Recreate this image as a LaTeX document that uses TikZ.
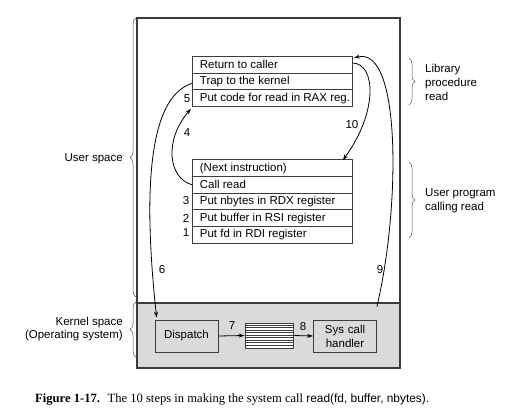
\documentclass[tikz,border=0pt]{standalone}
\usepackage{fontspec}
\setmainfont{Liberation Sans}
\newfontfamily\capserif{Liberation Serif}
\newfontfamily\capsans{Liberation Sans}
\usetikzlibrary{arrows.meta,decorations.pathreplacing}

\definecolor{kgray}{RGB}{218,218,218}
\definecolor{edge}{RGB}{60,60,60}

% left-set text in a fixed-width slot; longer text may run past the slot
\newcommand{\rowtext}[1]{\makebox[145pt][l]{#1}}

\begin{document}
\begin{tikzpicture}[x=1pt,y=-1pt,
  every node/.style={font=\fontsize{11.5}{13.9}\selectfont, inner sep=0pt},
  row/.style={draw=edge, line width=0.8pt, anchor=north west,
    minimum height=16.7pt, minimum width=160pt, inner xsep=7.5pt},
  kbox/.style={draw=edge, line width=0.8pt, fill=kgray, minimum width=63pt,
    minimum height=32pt, align=center},
  flow/.style={line width=0.8pt, -{Stealth[length=6pt,width=4pt]}},
  brc/.style={draw=black!65, line width=0.5pt,
    decorate, decoration={brace, amplitude=6pt}},
  num/.style={font=\fontsize{11.5}{13.9}\selectfont}
]
\useasboundingbox (0,0) rectangle (523,417);

% address space: user part above, shaded kernel part below
\fill[kgray] (137,303) rectangle (400,368);
\draw[edge, line width=1.1pt] (137,18) rectangle (400,368);
\draw[edge, line width=1.1pt] (137,303) -- (400,303);

% library procedure read
\node[row] (l1) at (192,56)   {\rowtext{Return to caller}};
\node[row] (l2) at (192,72.6) {\rowtext{Trap to the kernel}};
\node[row] (l3) at (192,89.3) {\rowtext{Put code for read in RAX reg.}};

% user program calling read
\node[row] (u0) at (192,159.3) {\rowtext{(Next instruction)}};
\node[row] (u1) at (192,176)   {\rowtext{Call read}};
\node[row] (u2) at (192,192.7) {\rowtext{Put nbytes in RDX register}};
\node[row] (u3) at (192,209.4) {\rowtext{Put buffer in RSI register}};
\node[row] (u4) at (192,226.1) {\rowtext{Put fd in RDI register}};

% kernel side
\node[kbox] (disp) at (186.5,336) {Dispatch};
\node[kbox, text width=60pt] (hand) at (345,336) {Sys call\\handler};
\node[draw=edge, line width=0.8pt, fill=white, minimum width=48pt,
  minimum height=25pt] (tab) at (269,335.5) {};
\foreach \k in {1,...,9}
  \draw[edge, line width=0.6pt] ([yshift=-2.5*\k pt]tab.north west) -- ([yshift=-2.5*\k pt]tab.north east);

% step numbers
\node[num] (n1) at (186,233) {1};
\node[num] (n2) at (186,218) {2};
\node[num] (n3) at (186,201) {3};
\node[num] (n4) at (187,133) {4};
\node[num] (n5) at (187,99)  {5};
\node[num] (n6) at (162,270) {6};
\node[num] (n7) at (232,326) {7};
\node[num] (n8) at (303,327) {8};
\node[num] (n9) at (380,270) {9};
\node[num] (n10) at (352,125) {10};

% control flow
\coordinate (d6) at ([xshift=2pt,yshift=2pt]disp.north west);
\coordinate (s9) at ([yshift=13pt]hand.north east);
\coordinate (e10) at ([xshift=-10pt,yshift=-1pt]u0.north east);
\coordinate (e4) at ([xshift=-1pt,yshift=-2pt]l3.south west);
\coordinate (e9) at ([xshift=1pt,yshift=-2pt]l1.north east);
\coordinate (s10) at ([yshift=-7pt]l1.north east);

\draw[flow] (u1.west) .. controls (168,178) and (164,140) .. (e4);
\draw[flow] ([yshift=-2pt]l2.west) .. controls (146,98) and (144,200) .. (d6);
\draw[flow] (disp.east) -- (tab.west);
\draw[flow] (tab.east) -- (hand.west);
\draw[flow] (s9) .. controls (400,210) and (402,45) .. (e9);
\draw[flow] (s10) .. controls (376,64) and (378,112) .. (e10);

% region braces and labels
\draw[brc] (136,297) -- (136,18) coordinate[midway] (bu);
\draw[brc] (136,357) -- (136,302) coordinate[midway] (bk);
\draw[brc] (409,58) -- (409,105) coordinate[midway] (bl);
\draw[brc] (409,162) -- (409,238) coordinate[midway] (bp);

\node[anchor=east] (tu) at (123,159) {User space};
\node[anchor=east, align=right] (tk) at (123,329) {Kernel space\\(Operating system)};
\node[anchor=west, align=left] (tl) at (425,82) {Library\\procedure\\read};
\node[anchor=west, align=left] (tp) at (425,201) {User program\\calling read};

% caption
\node[anchor=west] (cap) at (35,400) {\capserif\fontsize{12.6}{15}\selectfont
  \textbf{Figure 1-17.}\hspace{0.6em}The 10 steps in making the system call
  {\capsans\fontsize{11.9}{15}\selectfont read(fd, buffer, nbytes).}};
\end{tikzpicture}
\end{document}
